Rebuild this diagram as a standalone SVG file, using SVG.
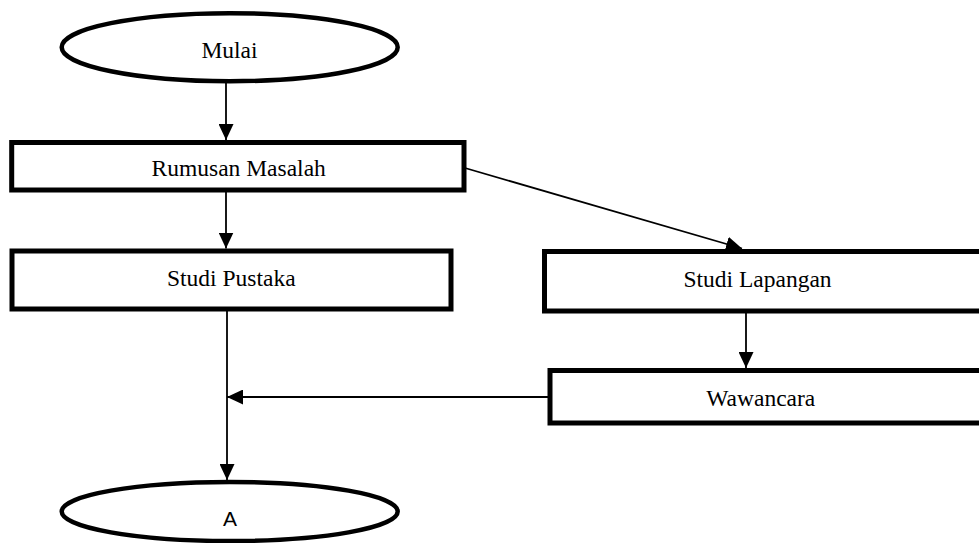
<svg xmlns="http://www.w3.org/2000/svg" width="979" height="543" viewBox="0 0 979 543">
<defs>
<style>
.box{fill:#fff;stroke:#000;stroke-width:5}
.term{fill:#fff;stroke:#000;stroke-width:4.5}
.lbl{font-family:"Liberation Serif","Times New Roman",serif;font-size:23.5px;text-anchor:middle;fill:#000}
.lblA{font-family:"Liberation Sans",Arial,sans-serif;font-size:21px;text-anchor:middle;fill:#000}
.conn{fill:none;stroke:#000;stroke-width:1.8}
</style>
<marker id="ah" markerWidth="16" markerHeight="15" refX="16" refY="7.5" orient="auto" markerUnits="userSpaceOnUse">
<path d="M0,0 L16,7.5 L0,15 Z" fill="#000"/>
</marker>
</defs>
<rect width="979" height="543" fill="#fff"/>
<g id="connectors">
<line class="conn" x1="226" y1="83" x2="226" y2="140" marker-end="url(#ah)"/>
<line class="conn" x1="226" y1="192" x2="226" y2="248.5" marker-end="url(#ah)"/>
<line class="conn" x1="465" y1="168" x2="742" y2="248.5" marker-end="url(#ah)"/>
<line class="conn" x1="746" y1="313" x2="746" y2="368" marker-end="url(#ah)"/>
<line class="conn" x1="227" y1="311" x2="227" y2="480" marker-end="url(#ah)"/>
<line class="conn" x1="548" y1="397" x2="227" y2="397" marker-end="url(#ah)"/>
</g>
<g id="mulai">
<ellipse class="term" cx="229.7" cy="47.2" rx="168" ry="34"/>
<text class="lbl" x="229.5" y="58.3">Mulai</text>
</g>
<g id="rumusan">
<rect class="box" x="11.7" y="142.5" width="452.3" height="47.5"/>
<text class="lbl" x="238.7" y="176">Rumusan Masalah</text>
</g>
<g id="studi-pustaka">
<rect class="box" x="12" y="251" width="439" height="58"/>
<text class="lbl" x="231.3" y="286">Studi Pustaka</text>
</g>
<g id="studi-lapangan">
<rect class="box" x="544.5" y="251.5" width="450" height="59.5"/>
<text class="lbl" x="757.5" y="286.7">Studi Lapangan</text>
</g>
<g id="wawancara">
<rect class="box" x="550" y="370.5" width="450" height="52.5"/>
<text class="lbl" x="760.8" y="406">Wawancara</text>
</g>
<g id="a">
<ellipse class="term" cx="229.7" cy="511.5" rx="168" ry="29.5"/>
<text class="lblA" x="230" y="526">A</text>
</g>
</svg>
